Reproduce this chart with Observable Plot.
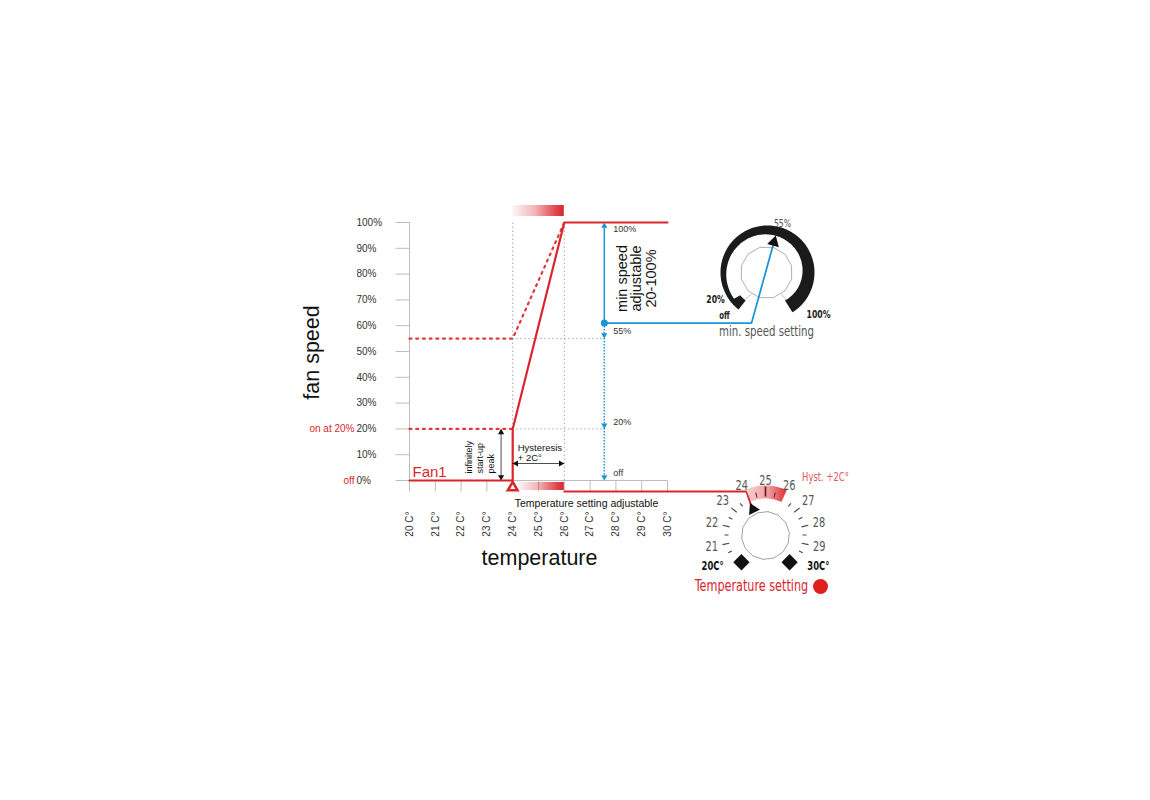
<!DOCTYPE html>
<html><head><meta charset="utf-8">
<script src="https://cdn.jsdelivr.net/npm/d3@7"></script>
<script src="https://cdn.jsdelivr.net/npm/@observablehq/plot@0.6"></script>
<style>body{margin:0;background:#fff;} svg{display:block}</style>
</head><body><div id="chart"></div>
<script>
// ---------- data ----------
const temps = [20, 21, 22, 23, 24, 25, 26, 27, 28, 29, 30];
const tempLabels = temps.map(t => t + " C°");
const speedTicks = [0, 10, 20, 30, 40, 50, 60, 70, 80, 90, 100];
const speedLabels = speedTicks.map(v => v + "%");
const fanCurve = [{t: 20, s: 0}, {t: 24, s: 0}, {t: 24, s: 20}, {t: 26, s: 100}, {t: 30, s: 100}];
const startPeakLine = [{t: 20, s: 20}, {t: 24, s: 20}];
const minSpeedLine = [{t: 20, s: 55}, {t: 24, s: 55}, {t: 26, s: 100}];
const hysteresis = [24, 26];
const minSpeedSetting = 61;
const blueX = 27.55;
const peakArrowX = 23.55;
const blueMarks = [{s: 100, label: "100%"}, {s: 55, label: "55%"}, {s: 20, label: "20%"}, {s: 0, label: "off"}];
const sideLabels = [{s: 20, label: "on at 20%"}, {s: 0, label: "off"}];
const dialTemps = [21, 22, 23, 24, 25, 26, 27, 28, 29];

// ---------- layout ----------
const XR = [409, 667], YR = [480, 222];
const px2x = p => 20 + (p - XR[0]) * 10 / (XR[1] - XR[0]);
const px2y = p => (YR[0] - p) * 100 / (YR[0] - YR[1]);
const polar = (c, r, deg) => { const a = deg * Math.PI / 180; return {t: px2x(c[0] + r * Math.sin(a)), s: px2y(c[1] - r * Math.cos(a))}; };

const red = "#d9262c", blue = "#1b95d6", axisGray = "#bdbdbd", dotGray = "#a9a9a9";
const narrow = "'Liberation Sans Narrow', 'DejaVu Sans Condensed', sans-serif";

// top dial geometry
const C1 = [767, 272];
const A0 = -142, A1 = 148;
const thick = a => a < -128 ? 11.5 : 4.5 + (a + 128) / (A1 + 128) * 9.5;
const arcPts = [];
for (let a = A0; a <= A1; a += 2) arcPts.push(polar(C1, 47, a));
for (let a = A1; a >= A0; a -= 2) arcPts.push(polar(C1, 47 - thick(a), a));
const knob1 = d3.range(13).map(i => polar([766, 272], 26, i * 30 + 15));
const pointer1 = polar(C1, 31, 12);
const blueConn = [{t: blueX, s: minSpeedSetting}, {t: px2x(751), s: minSpeedSetting}, pointer1];

// bottom dial geometry
const C2 = [765, 535];
const ang = t => (t - 25) * 25.5;
const knob2 = d3.range(15).map(i => polar(C2, 24, i * 360 / 14 + 6));
const dialTicks = [];
for (let t = 20.5; t <= 29.5; t += 0.5) {
  if (t >= 24 && t <= 26) continue;
  const major = t % 1 === 0;
  const a = polar(C2, 37, ang(t)), b = polar(C2, major ? 44 : 41, ang(t));
  dialTicks.push({x1: a.t, y1: a.s, x2: b.t, y2: b.s});
}
const bandPts = [];
for (let a = -23; a <= 25.5; a += 1) bandPts.push(polar(C2, 50, a));
for (let a = 25.5; a >= -23; a -= 1) bandPts.push(polar(C2, 37, a));
const bandTicks = [24.5, 25, 25.5].map(t => { const a = polar(C2, 39, ang(t)), b = polar(C2, t === 25 ? 49 : 44, ang(t)); return {x1: a.t, y1: a.s, x2: b.t, y2: b.s, w: t === 25 ? 1.6 : 1}; });
const pointer2 = polar(C2, 29, ang(24));
const pointer2Tip = polar(C2, 33, ang(24));
const redConn = [{t: 26, s: px2y(491)}, {t: px2x(746), s: px2y(491)}, pointer2Tip];
const dialLabels = dialTemps.map(t => ({...polar(C2, 55, ang(t)), label: String(t)}));
const endLabels = [{...polar(C2, 61, -120), label: "20C°"}, {...polar(C2, 61, 120), label: "30C°"}];
const diamonds = [polar(C2, 36, -138), polar(C2, 36, 138)];

const marks = [
  () => {
    const d = document.createElementNS("http://www.w3.org/2000/svg", "defs");
    d.innerHTML = `
      <linearGradient id="redGrad" x1="0" x2="1" y1="0" y2="0">
        <stop offset="0" stop-color="#d9262c" stop-opacity="0.03"/>
        <stop offset="0.45" stop-color="#d9262c" stop-opacity="0.35"/>
        <stop offset="0.85" stop-color="#d9262c" stop-opacity="0.85"/>
        <stop offset="1" stop-color="#d9262c" stop-opacity="1"/>
      </linearGradient>
      <linearGradient id="bandGrad" x1="0" x2="1" y1="0" y2="0">
        <stop offset="0" stop-color="#f7d3d3"/>
        <stop offset="0.55" stop-color="#ee9d9f"/>
        <stop offset="1" stop-color="#da2e34"/>
      </linearGradient>`;
    return d;
  },
  // gray dotted guides
  Plot.ruleX(hysteresis, {y1: 0, y2: 100, stroke: dotGray, strokeDasharray: "1.5,2.5"}),
  Plot.ruleY([20, 55], {x1: 24, x2: blueX, stroke: dotGray, strokeDasharray: "1.5,2.5"}),
  // axes
  Plot.ruleX([20], {y1: px2y(491), y2: 100, stroke: axisGray}),
  Plot.link(speedTicks, {x1: px2x(395), x2: 20, y1: d => d, y2: d => d, stroke: axisGray}),
  Plot.ruleY([0], {x1: 20, x2: 30, stroke: axisGray}),
  Plot.link(temps, {x1: d => d, x2: d => d, y1: 0, y2: px2y(491), stroke: axisGray}),
  Plot.text(speedTicks, {x: 20, y: d => d, text: (d, i) => speedLabels[i], dx: -53, textAnchor: "start", fontSize: 10, fill: "#333"}),
  Plot.text(sideLabels, {x: 20, y: "s", text: "label", dx: -55, textAnchor: "end", fontSize: 10, fill: red}),
  Plot.text(temps, {x: d => d, y: 0, text: (d, i) => tempLabels[i], dy: 31, rotate: -90, textAnchor: "end", fontSize: 10, fill: "#333"}),
  // gradient bars
  Plot.rect([0], {x1: 24, x2: 26, y1: px2y(216), y2: px2y(205), fill: "url(#redGrad)"}),
  Plot.rect([0], {x1: px2x(517), x2: 26, y1: px2y(490), y2: px2y(482), fill: "url(#redGrad)"}),
  // red curves
  Plot.line(startPeakLine, {x: "t", y: "s", stroke: "#e0383c", strokeWidth: 2.2, strokeDasharray: "2,4.7"}),
  Plot.line(minSpeedLine, {x: "t", y: "s", stroke: "#e0383c", strokeWidth: 2.2, strokeDasharray: "2,4.7"}),
  Plot.line(fanCurve, {x: "t", y: "s", stroke: red, strokeWidth: 2.2}),
  Plot.line(redConn, {x: "t", y: "s", stroke: red, strokeWidth: 2}),
  Plot.dot([24], {x: d => d, y: px2y(487), symbol: "triangle", r: 3.6, stroke: red, strokeWidth: 2.5, fill: "white"}),
  Plot.text(["Fan1"], {x: 20, y: 0, dx: 3, dy: -8, textAnchor: "start", fontSize: 15, fill: red}),
  Plot.text(["Temperature setting adjustable"], {x: px2x(586), y: px2y(503), fontSize: 10.5, fill: "#111"}),
  // start-up arrow
  Plot.ruleX([peakArrowX], {y1: 1, y2: 19, stroke: "#222", strokeWidth: 0.8}),
  Plot.dot([20], {x: peakArrowX, y: d => d, dy: 3.5, symbol: "triangle", r: 2.3, fill: "#111", stroke: "none"}),
  Plot.dot([0], {x: peakArrowX, y: d => d, dy: -3.5, rotate: 180, symbol: "triangle", r: 2.3, fill: "#111", stroke: "none"}),
  Plot.text(["infinitely\nstart-up\npeak"], {x: px2x(479), y: px2y(473), rotate: -90, textAnchor: "start", fontSize: 9, lineHeight: 1.2, fill: "#111"}),
  // hysteresis arrow
  Plot.ruleY([px2y(463)], {x1: 24, x2: 26, stroke: "#222", strokeWidth: 0.8}),
  Plot.dot([hysteresis[0]], {x: d => d, y: px2y(463), dx: 3.5, rotate: -90, symbol: "triangle", r: 2.3, fill: "#111", stroke: "none"}),
  Plot.dot([hysteresis[1]], {x: d => d, y: px2y(463), dx: -3.5, rotate: 90, symbol: "triangle", r: 2.3, fill: "#111", stroke: "none"}),
  Plot.text(["Hysteresis\n+ 2C°"], {x: 24, y: px2y(452), dx: 5, textAnchor: "start", fontSize: 9.5, lineHeight: 1.1, fill: "#111"}),
  // blue min speed
  Plot.ruleX([blueX], {y1: minSpeedSetting, y2: 99, stroke: blue, strokeWidth: 1.5}),
  Plot.ruleX([blueX], {y1: 1, y2: minSpeedSetting, stroke: blue, strokeWidth: 1.5, strokeDasharray: "1.5,1.5"}),
  Plot.dot([100], {x: blueX, y: d => d, dy: 3.5, symbol: "triangle", r: 2.3, fill: blue, stroke: "none"}),
  Plot.dot(blueMarks.slice(1), {x: blueX, y: "s", dy: -3.5, rotate: 180, symbol: "triangle", r: 2.3, fill: blue, stroke: "none"}),
  Plot.dot([minSpeedSetting], {x: blueX, y: d => d, r: 3.5, fill: blue}),
  Plot.text(blueMarks.slice(0, 1), {x: blueX, y: "s", text: "label", dx: 9, dy: 7, textAnchor: "start", fontSize: 9, fill: "#333"}),
  Plot.text(blueMarks.slice(1), {x: blueX, y: "s", text: "label", dx: 9, dy: -7, textAnchor: "start", fontSize: 9, fill: "#333"}),
  Plot.text(["min speed\nadjustable\n20-100%"], {x: px2x(636), y: px2y(278), rotate: -90, fontSize: 14.5, lineHeight: 1.0, fill: "#111"}),
  // top dial
  Plot.line(knob1, {x: "t", y: "s", stroke: "#999", strokeWidth: 0.8, fill: "white"}),
  Plot.link([[-145, -140], [145, 146]], {x1: d => polar([766, 272], 26, d[0]).t, y1: d => polar([766, 272], 26, d[0]).s, x2: d => polar(C1, 37, d[1]).t, y2: d => polar(C1, 37, d[1]).s, stroke: "#bbb", strokeWidth: 0.8}),
  Plot.line(arcPts, {x: "t", y: "s", fill: "#1b1b1b", stroke: "none"}),
  Plot.line(blueConn, {x: "t", y: "s", stroke: blue, strokeWidth: 1.8}),
  Plot.dot([pointer1], {x: "t", y: "s", symbol: "triangle", rotate: 15, r: 4.5, fill: "#111", stroke: "none"}),
  Plot.text(["55%"], {x: px2x(782), y: px2y(223), fontSize: 11, fill: "#555", fontFamily: narrow}),
  Plot.text(["20%"], {x: px2x(715), y: px2y(299), fontSize: 11, fontWeight: "bold", fill: "#222", fontFamily: narrow}),
  Plot.text(["off"], {x: px2x(724), y: px2y(315), fontSize: 10, fontWeight: "bold", fill: "#222", fontFamily: narrow}),
  Plot.text(["100%"], {x: px2x(818), y: px2y(314), fontSize: 11, fontWeight: "bold", fill: "#222", fontFamily: narrow}),
  Plot.text(["min. speed setting"], {x: px2x(766), y: px2y(331), fontSize: 14.5, fill: "#555", fontFamily: narrow}),
  // bottom dial
  Plot.line(knob2, {x: "t", y: "s", stroke: "#888", strokeWidth: 0.8, fill: "white"}),
  Plot.link(dialTicks, {x1: "x1", y1: "y1", x2: "x2", y2: "y2", stroke: "#444", strokeWidth: 1.1}),
  Plot.line(bandPts, {x: "t", y: "s", fill: "url(#bandGrad)", stroke: "none"}),
  Plot.link(bandTicks, {x1: "x1", y1: "y1", x2: "x2", y2: "y2", stroke: "#6b1515", strokeWidth: "w"}),
  Plot.dot([pointer2], {x: "t", y: "s", symbol: "triangle", rotate: ang(24), r: 4.5, fill: "#111", stroke: "none"}),
  Plot.dot(diamonds, {x: "t", y: "s", symbol: "square", rotate: 45, r: 6.5, fill: "#111", stroke: "none"}),
  Plot.text(dialLabels, {x: "t", y: "s", text: "label", fontSize: 14, fill: "#555", fontFamily: narrow}),
  Plot.text(endLabels, {x: "t", y: "s", text: "label", fontSize: 12, fontWeight: "bold", fill: "#111", fontFamily: narrow}),
  Plot.text(["Hyst. +2C°"], {x: px2x(825), y: px2y(477), fontSize: 12, fill: "#e0585c", fontFamily: narrow}),
  Plot.text(["Temperature setting"], {x: px2x(751), y: px2y(585), fontSize: 16, fill: "#d9262c", fontFamily: narrow}),
  Plot.dot([0], {x: px2x(820), y: px2y(586), r: 7.5, fill: "#e01f1f", stroke: "none"}),
  // titles
  Plot.text(["fan speed"], {x: px2x(312), y: px2y(352), rotate: -90, fontSize: 21.5, fill: "#111"}),
  Plot.text(["temperature"], {x: px2x(539), y: px2y(558), fontSize: 21.5, fill: "#111"})
];

const chart = Plot.plot({
  width: 1150,
  height: 800,
  x: {type: "linear", domain: [20, 30], range: XR, axis: null},
  y: {type: "linear", domain: [0, 100], range: YR, axis: null},
  style: {fontFamily: "'Liberation Sans', Arial, sans-serif", background: "white", overflow: "visible"},
  marks
});
document.getElementById("chart").appendChild(chart);

// condense the dial lettering (narrow DIN-like face in the reference)
d3.select(chart).selectAll("g[font-family*='Narrow'] text").each(function () {
  const w = this.getComputedTextLength();
  this.setAttribute("textLength", (w * 0.78).toFixed(1));
  this.setAttribute("lengthAdjust", "spacingAndGlyphs");
});
</script>
</body></html>
